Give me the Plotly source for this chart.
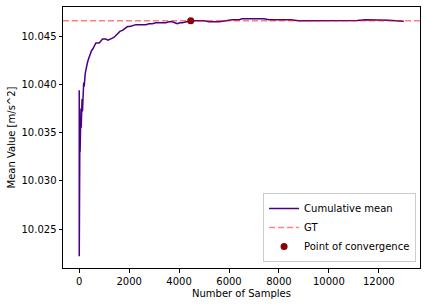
import plotly.graph_objects as go

# ---- data ----
n_samples = [1, 2, 3, 4, 5, 6, 7, 8, 10, 12, 15, 18, 22, 26, 30, 35, 40, 45, 50, 60, 70, 80, 90, 100,
             115, 130, 145, 160, 180, 200, 220, 240, 270, 300, 333, 380, 427, 460, 493, 550, 600, 640,
             667, 720, 800, 870, 933, 1000, 1067, 1150, 1267, 1330, 1400, 1470, 1533, 1630, 1733,
             1830, 1933, 2030, 2133, 2270, 2400, 2530, 2667, 2800, 2933, 3070, 3200, 3330, 3467,
             3600, 3733, 3830, 3933, 4030, 4133, 4300, 4467, 4630, 4800, 5000, 5200, 5400, 5600,
             5870, 6133, 6400, 6533, 6800, 7067, 7200, 7400, 7600, 7870, 8133, 8470, 8800, 9130,
             9467, 9800, 10133, 10470, 10800, 11130, 11467, 11800, 12133, 12400, 12667, 13000]
cum_mean = [10.0394, 10.0222, 10.0300, 10.0265, 10.0330, 10.0290, 10.0345, 10.0310, 10.0355, 10.0325,
            10.0362, 10.0335, 10.0370, 10.0340, 10.0365, 10.0330, 10.0372, 10.0345, 10.0368, 10.0340,
            10.0375, 10.0355, 10.0378, 10.0362, 10.0385, 10.0372, 10.0392, 10.0396, 10.0402, 10.0398,
            10.0408, 10.0411, 10.0415, 10.0420, 10.0423, 10.0427, 10.0431, 10.0433, 10.0435, 10.0437,
            10.0439, 10.0442, 10.0443, 10.0443, 10.0443, 10.0445, 10.0447, 10.0447, 10.0447, 10.0446,
            10.0447, 10.0448, 10.0449, 10.0451, 10.0453, 10.0455, 10.0456, 10.0458, 10.0460, 10.0460,
            10.0461, 10.0462, 10.0462, 10.0462, 10.0462, 10.0463, 10.0463, 10.0464, 10.0464, 10.0464,
            10.0464, 10.0465, 10.0465, 10.0464, 10.0463, 10.0464, 10.0464, 10.0465, 10.0466, 10.0466,
            10.0466, 10.0466, 10.0465, 10.0465, 10.0465, 10.0466, 10.0467, 10.0467, 10.0468, 10.0468,
            10.0468, 10.0468, 10.0468, 10.0467, 10.0467, 10.0467, 10.0467, 10.0466, 10.0466, 10.0466,
            10.0466, 10.04656, 10.04656, 10.04656, 10.04662, 10.0467, 10.0467, 10.0467, 10.04665,
            10.0466, 10.04656]
gt_value = 10.0466
conv_sample = 4467
conv_value = 10.0466
x_ticks = [0, 2000, 4000, 6000, 8000, 10000, 12000]
y_ticks = [10.025, 10.030, 10.035, 10.040, 10.045]
x_label = "Number of Samples"
y_label = "Mean Value [m/s^2]"

# axis ranges with matplotlib-like 5% margins
xmin, xmax = min(n_samples), max(n_samples)
xpad = 0.05 * (xmax - xmin)
x_range = [xmin - xpad, xmax + xpad]
ymin, ymax = min(cum_mean), max(cum_mean)
ypad = 0.05 * (ymax - ymin)
y_range = [ymin - ypad, ymax + ypad]

fig = go.Figure()
fig.add_trace(go.Scatter(x=n_samples, y=cum_mean, mode="lines", name="Cumulative mean",
                         line=dict(color="#4B0082", width=1.5)))
fig.add_trace(go.Scatter(x=x_range, y=[gt_value, gt_value], mode="lines", name="GT",
                         line=dict(color="rgba(255,0,0,0.5)", width=1.5, dash="6px,3px")))
fig.add_trace(go.Scatter(x=[conv_sample], y=[conv_value], mode="markers", name="Point of convergence",
                         marker=dict(color="#8B0000", size=7)))

axis_common = dict(showline=True, linecolor="black", linewidth=1, mirror=True,
                   ticks="outside", ticklen=3.5, tickwidth=1, tickcolor="black",
                   showgrid=False, zeroline=False, automargin=False,
                   tickfont=dict(family="DejaVu Sans", size=10, color="black"))

fig.update_layout(
    width=427, height=306,
    margin=dict(l=63, r=7, t=7, b=38),
    plot_bgcolor="white", paper_bgcolor="white",
    font=dict(family="DejaVu Sans", size=10, color="black"),
    xaxis=dict(range=x_range, tickvals=x_ticks, ticktext=[str(t) for t in x_ticks], **axis_common),
    yaxis=dict(range=y_range, tickvals=y_ticks, ticktext=[f"{t:.3f}" for t in y_ticks], **axis_common),
    legend=dict(x=0.989, y=0.023, xanchor="right", yanchor="bottom",
                bgcolor="rgba(255,255,255,0.8)", bordercolor="#cccccc", borderwidth=1,
                font=dict(family="DejaVu Sans", size=10), itemwidth=30,
                tracegroupgap=0),
    showlegend=True,
    annotations=[
        dict(text=x_label, xref="paper", yref="paper", x=0.5, y=-0.096, xanchor="center",
             yanchor="middle", showarrow=False, font=dict(family="DejaVu Sans", size=10, color="black")),
        dict(text=y_label, xref="paper", yref="paper", x=-0.143, y=0.5, xanchor="center",
             yanchor="middle", textangle=-90, showarrow=False,
             font=dict(family="DejaVu Sans", size=10, color="black")),
    ],
)

fig.write_html("out.html", config={"displayModeBar": False},
               post_script="document.body.style.margin='0';")
